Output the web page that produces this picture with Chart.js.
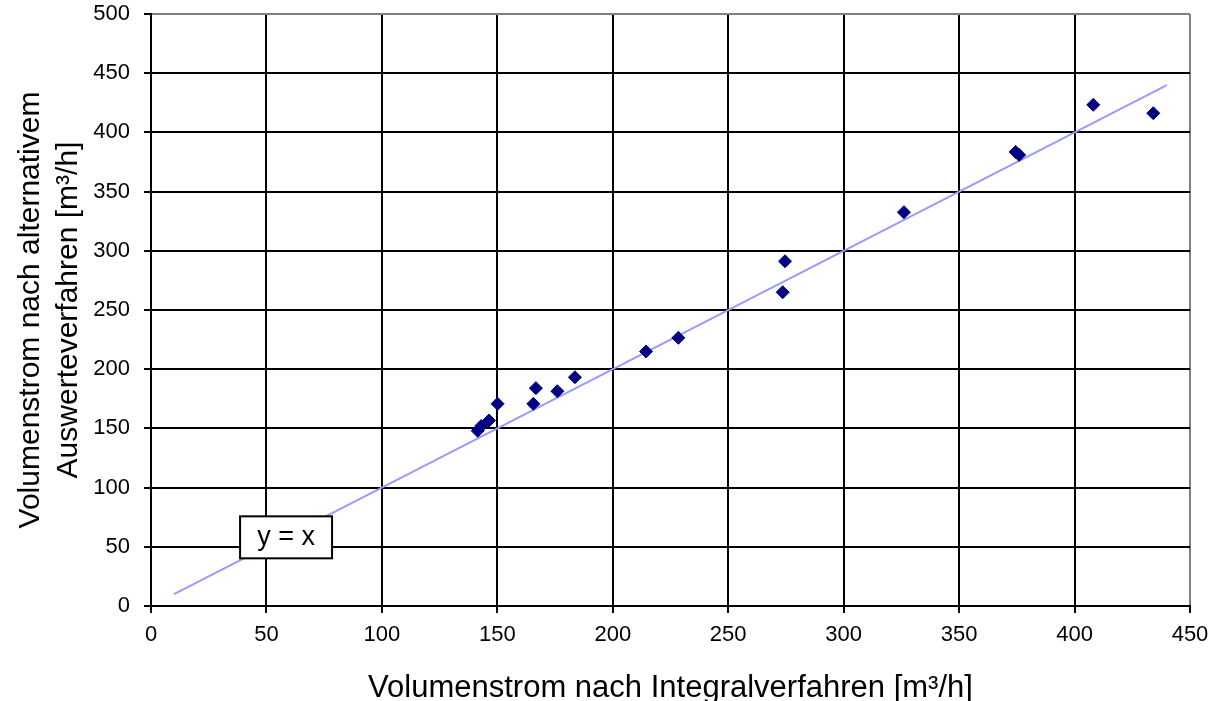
<!DOCTYPE html>
<html><head><meta charset="utf-8">
<script src="https://cdn.jsdelivr.net/npm/chart.js@4/dist/chart.umd.min.js"></script>
<style>html,body{margin:0;padding:0;background:#fff}#wrap{width:1215px;height:701px}</style>
</head><body><div id="wrap"><canvas id="c" width="1215" height="701"></canvas></div>
<script>
const xValues = [141.5, 143, 146.4, 150.1, 166.7, 165.6, 176, 183.6, 214.4, 228.4, 274.6, 273.6, 326.1, 374.5, 376, 408.1, 434.1];
const yValues = [148, 152, 156.7, 170.8, 184, 170.8, 181.4, 193.2, 215, 226.5, 291.2, 265, 332.6, 383.5, 381, 423.3, 416.2];
const lineX = [10, 440];
const lineY = [10, 440];
const xTicks = [0, 50, 100, 150, 200, 250, 300, 350, 400, 450];
const yTicks = [0, 50, 100, 150, 200, 250, 300, 350, 400, 450, 500];
const labelText = 'y = x';
const labelPos = [58.5, 58];
const xTitle = 'Volumenstrom nach Integralverfahren [m³/h]';
const yTitle = ['Volumenstrom nach alternativem', 'Auswerteverfahren [m³/h]'];

const FONT = '"Liberation Sans", Arial, sans-serif';
const points = xValues.map((x, i) => ({x, y: yValues[i]}));
const linePts = lineX.map((x, i) => ({x, y: lineY[i]}));

const labelPlugin = {
  id: 'eqLabel',
  afterDatasetsDraw(chart) {
    const {ctx, scales} = chart;
    const cx = scales.x.getPixelForValue(labelPos[0]);
    const cy = scales.y.getPixelForValue(labelPos[1]);
    ctx.save();
    ctx.font = '27px ' + FONT;
    const w = 92, h = 42;
    ctx.fillStyle = '#fff';
    ctx.fillRect(cx - w/2, cy - h/2, w, h);
    ctx.strokeStyle = '#000';
    ctx.lineWidth = 2;
    ctx.strokeRect(cx - w/2, cy - h/2, w, h);
    ctx.fillStyle = '#000';
    ctx.textAlign = 'center';
    ctx.textBaseline = 'middle';
    ctx.fillText(labelText, cx, cy);
    ctx.restore();
  }
};

new Chart(document.getElementById('c'), {
  type: 'scatter',
  data: {
    datasets: [
      {
        data: points,
        pointStyle: 'rectRot',
        pointRadius: 6.5,
        backgroundColor: '#000080',
        borderColor: '#000080',
        borderWidth: 1,
        order: 1
      },
      {
        type: 'line',
        data: linePts,
        showLine: true,
        borderColor: '#9999FF',
        borderWidth: 2,
        pointRadius: 0,
        fill: false,
        order: 2
      }
    ]
  },
  options: {
    responsive: false,
    animation: false,
    events: [],
    layout: {padding: {top: 14, right: 25, left: 0, bottom: 0}},
    plugins: {legend: {display: false}, tooltip: {enabled: false}},
    scales: {
      x: {
        type: 'linear', min: 0, max: 450,
        afterBuildTicks(s) { s.ticks = xTicks.map(v => ({value: v})); },
        afterFit(s) { s.height = 95; s.paddingLeft = 0; s.paddingRight = 0; },
        grid: {
          color: c => (c.tick && c.tick.value === 450) ? '#808080' : '#000',
          lineWidth: 2, tickLength: 7, tickColor: '#000'
        },
        border: {display: true, color: '#000', width: 2},
        ticks: {font: {family: FONT, size: 22}, color: '#000', padding: 9, maxRotation: 0},
        title: {display: true, text: xTitle, font: {family: FONT, size: 31, lineHeight: 0.78}, color: '#000', padding: {top: 0, bottom: 0}}
      },
      y: {
        type: 'linear', min: 0, max: 500,
        afterBuildTicks(s) { s.ticks = yTicks.map(v => ({value: v})); },
        afterFit(s) { s.width = 151; s.paddingTop = 0; s.paddingBottom = 0; },
        grid: {
          color: c => (c.tick && c.tick.value === 500) ? '#808080' : '#000',
          lineWidth: 2, tickLength: 7, tickColor: '#000'
        },
        border: {display: true, color: '#000', width: 2},
        ticks: {font: {family: FONT, size: 22}, color: '#000', padding: 14},
        title: {display: true, text: yTitle, font: {family: FONT, size: 30, lineHeight: 1.27}, color: '#000', padding: {top: 12, bottom: 0}}
      }
    }
  },
  plugins: [labelPlugin]
});
</script></body></html>
